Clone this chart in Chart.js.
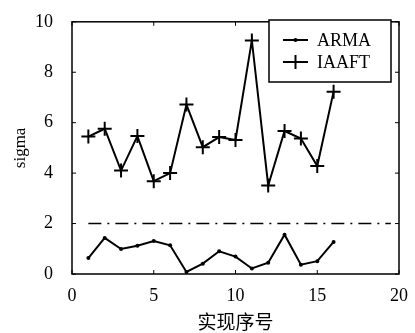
<!DOCTYPE html>
<html>
<head>
<meta charset="utf-8">
<script src="https://cdn.jsdelivr.net/npm/chart.js@4/dist/chart.umd.min.js"></script>
<style>
  html, body { margin: 0; padding: 0; background: #fff; }
  #wrap { width: 415px; height: 333px; position: relative; }
</style>
</head>
<body>
<div id="wrap"><canvas id="chart"></canvas></div>
<script>
// 实现序号
const runs = [1, 2, 3, 4, 5, 6, 7, 8, 9, 10, 11, 12, 13, 14, 15, 16];
const armaSigma = [0.63, 1.43, 0.99, 1.12, 1.31, 1.14, 0.08, 0.41, 0.90, 0.69, 0.22, 0.45, 1.56, 0.37, 0.51, 1.27];
const iaaftSigma = [5.45, 5.76, 4.10, 5.47, 3.68, 4.00, 6.72, 5.03, 5.43, 5.31, 9.26, 3.51, 5.67, 5.37, 4.28, 7.23];
// 阈值线
const thresholdX = [1, 19.5];
const thresholdY = 2;
const xTicks = [0, 5, 10, 15, 20];
const yTicks = [0, 2, 4, 6, 8, 10];

const serif = '"Liberation Serif", "DejaVu Serif", serif';

function toPoints(xs, ys) {
    return xs.map((x, i) => ({ x: x, y: ys[i] }));
}

// 边框 + 内向刻度 + 图例
const framePlugin = {
    id: 'frame',
    afterDraw(chart) {
        const ctx = chart.ctx;
        const a = chart.chartArea;
        const xs = chart.scales.x;
        const ys = chart.scales.y;
        ctx.save();
        ctx.strokeStyle = '#000';
        ctx.lineWidth = 1.5;
        ctx.strokeRect(a.left, a.top, a.right - a.left, a.bottom - a.top);
        ctx.lineWidth = 1;
        const len = 4;
        xTicks.forEach(v => {
            const px = xs.getPixelForValue(v);
            ctx.beginPath();
            ctx.moveTo(px, a.bottom); ctx.lineTo(px, a.bottom - len);
            ctx.moveTo(px, a.top); ctx.lineTo(px, a.top + len);
            ctx.stroke();
        });
        yTicks.forEach(v => {
            const py = ys.getPixelForValue(v);
            ctx.beginPath();
            ctx.moveTo(a.left, py); ctx.lineTo(a.left + len, py);
            ctx.moveTo(a.right, py); ctx.lineTo(a.right - len, py);
            ctx.stroke();
        });

        // 图例
        const lx = 269, ly = 20, lw = 122, lh = 62;
        ctx.fillStyle = '#fff';
        ctx.fillRect(lx, ly, lw, lh);
        ctx.lineWidth = 1.5;
        ctx.strokeRect(lx, ly, lw, lh);
        ctx.lineWidth = 2;
        ctx.fillStyle = '#000';
        ctx.font = '18px ' + serif;
        ctx.textBaseline = 'middle';
        ctx.textAlign = 'left';
        const rows = [{ label: 'ARMA', y: 40, cross: false }, { label: 'IAAFT', y: 62, cross: true }];
        rows.forEach(r => {
            ctx.beginPath();
            ctx.moveTo(283, r.y); ctx.lineTo(308, r.y);
            ctx.stroke();
            if (r.cross) {
                ctx.beginPath();
                ctx.moveTo(295.5, r.y - 7); ctx.lineTo(295.5, r.y + 7);
                ctx.stroke();
            } else {
                ctx.beginPath();
                ctx.arc(295.5, r.y, 2, 0, Math.PI * 2);
                ctx.fill();
            }
            ctx.fillText(r.label, 317, r.y + 1);
        });
        ctx.restore();
    }
};

new Chart(document.getElementById('chart'), {
    type: 'scatter',
    data: {
        datasets: [
            {
                label: 'ARMA',
                data: toPoints(runs, armaSigma),
                showLine: true,
                borderColor: '#000',
                backgroundColor: '#000',
                borderWidth: 2,
                pointRadius: 2,
                pointBorderWidth: 0,
                tension: 0
            },
            {
                label: 'IAAFT',
                data: toPoints(runs, iaaftSigma),
                showLine: true,
                borderColor: '#000',
                backgroundColor: '#000',
                borderWidth: 2,
                pointStyle: 'cross',
                pointRadius: 7,
                pointBorderWidth: 2,
                tension: 0
            },
            {
                label: 'threshold',
                data: thresholdX.map(x => ({ x: x, y: thresholdY })),
                showLine: true,
                borderColor: '#000',
                borderWidth: 1.5,
                borderDash: [13, 6, 2, 6],
                pointRadius: 0
            }
        ]
    },
    options: {
        responsive: true,
        maintainAspectRatio: false,
        animation: false,
        layout: { padding: { left: 0, top: 14, right: 16, bottom: 0 } },
        plugins: {
            legend: { display: false },
            tooltip: { enabled: false }
        },
        scales: {
            x: {
                type: 'linear',
                min: 0,
                max: 20,
                afterBuildTicks: s => { s.ticks = xTicks.map(v => ({ value: v })); },
                afterFit: s => { s.height = 59; },
                grid: { display: false },
                border: { display: false },
                ticks: { color: '#000', padding: 3, font: { family: serif, size: 18 } },
                title: {
                    display: true,
                    text: '实现序号',
                    color: '#000',
                    padding: { top: 8, bottom: 0 },
                    font: { family: '"Noto Sans CJK SC", sans-serif', size: 19, weight: 'normal' }
                }
            },
            y: {
                type: 'linear',
                min: 0,
                max: 10,
                afterBuildTicks: s => { s.ticks = yTicks.map(v => ({ value: v })); },
                afterFit: s => { s.width = 72; },
                grid: { display: false },
                border: { display: false },
                ticks: { color: '#000', padding: 11, font: { family: serif, size: 18 } },
                title: {
                    display: true,
                    text: 'sigma',
                    color: '#000',
                    padding: { top: 10, bottom: 0 },
                    font: { family: serif, size: 17 }
                }
            }
        }
    },
    plugins: [framePlugin]
});
</script>
</body>
</html>
